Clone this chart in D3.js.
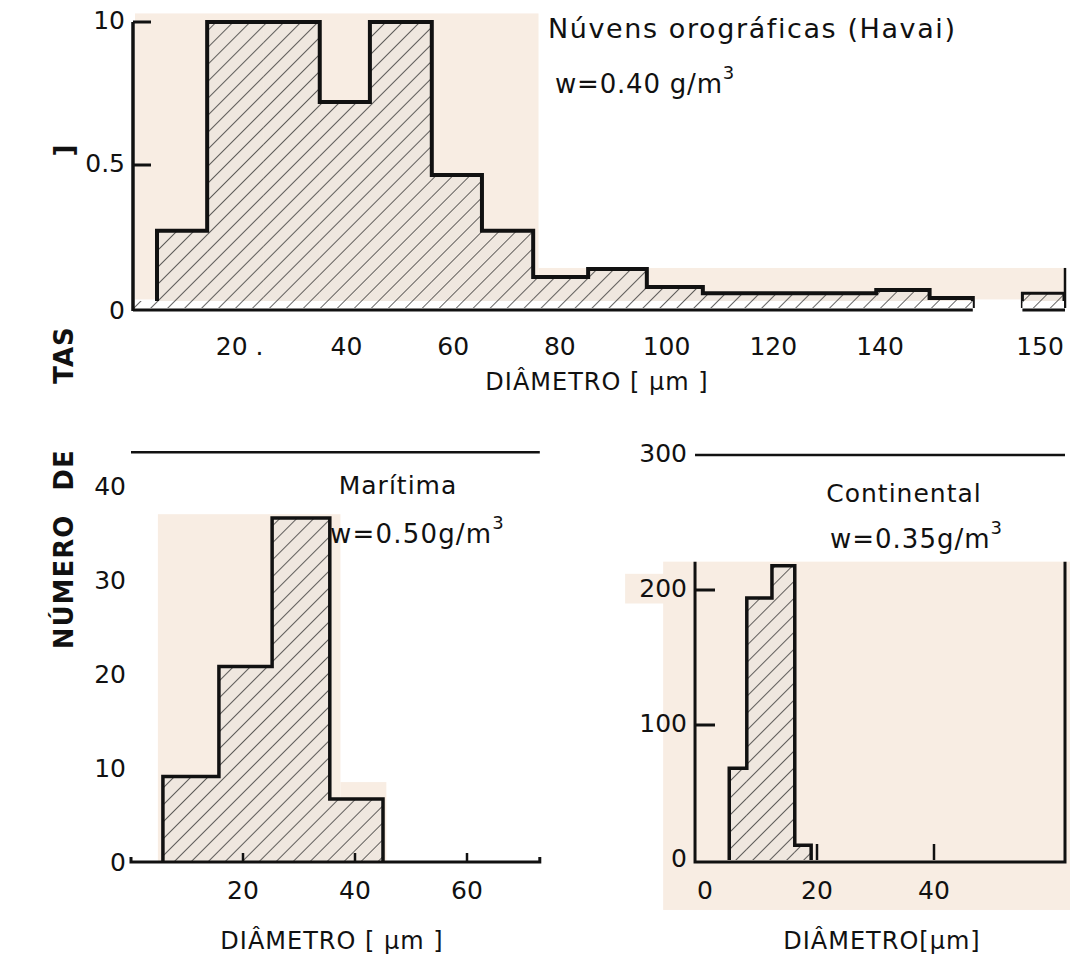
<!DOCTYPE html>
<html><head><meta charset="utf-8">
<script src="https://cdn.jsdelivr.net/npm/d3@7"></script>
<style>
html,body{margin:0;padding:0;background:#fff;}
svg text{font-family:"DejaVu Sans",sans-serif;fill:#111;}
</style></head>
<body>
<svg id="c" width="1070" height="970"></svg>
<script>
// ---------- DATA ----------
// Top: Núvens orográficas (Havai), w = 0.40 g/m3 (normalised number of drops)
const hawaiiEdges  = [4.5, 13.9, 24.5, 35.0, 44.4, 56.0, 65.4, 75.0, 85.3, 96.3, 106.8, 117, 128, 139.3, 143.1, 145.8];
const hawaiiCounts = [0.27, 1.0, 1.0, 0.72, 1.0, 0.465, 0.27, 0.108, 0.136, 0.073, 0.052, 0.052, 0.052, 0.063, 0.035];
const hawaiiExtraEdges  = [148.9, 151.5];
const hawaiiExtraCounts = [0.052];
const hawaiiXTicks  = [20, 40, 60, 80, 100, 120, 140, 150];
const hawaiiXLabels = ["20 .", "40", "60", "80", "100", "120", "140", "150"];
const hawaiiYTicks  = [0, 0.5, 1.0];
const hawaiiYLabels = ["0", "0.5", "10"];

// Bottom left: Marítima, w = 0.50 g/m3
const marEdges  = [5.7, 15.7, 25.2, 35.5, 45];
const marCounts = [9.1, 20.8, 36.6, 6.7];
const marXTicks = [20, 40, 60];
const marYTicks = [0, 10, 20, 30, 40];

// Bottom right: Continental, w = 0.35 g/m3
const conEdges  = [5, 8, 12.3, 16.2, 19];
const conCounts = [68, 194, 218, 11];
const conXTicks = [0, 20, 40];
const conYTicks = [0, 100, 200, 300];
const conYLabels = ["0", "100", "200", "300"];

// ---------- SETUP ----------
const svg = d3.select("#c");
const PEACH = "#f8ede3", BARFILL = "#efe7df", INK = "#111";

const defs = svg.append("defs");
defs.append("pattern").attr("id","hatch").attr("patternUnits","userSpaceOnUse")
  .attr("width",12).attr("height",12).attr("patternTransform","rotate(45)")
  .append("line").attr("x1",0).attr("y1",0).attr("x2",0).attr("y2",12)
  .attr("stroke","#222").attr("stroke-width",1.4);

function stepPath(edges, counts, x, y) {
  const p = d3.path();
  p.moveTo(x(edges[0]), y(0));
  counts.forEach((c,i)=>{ p.lineTo(x(edges[i]), y(c)); p.lineTo(x(edges[i+1]), y(c)); });
  p.lineTo(x(edges[edges.length-1]), y(0));
  return p.toString();
}
function drawHist(g, edges, counts, x, y, sw) {
  const bins = counts.map((c,i)=>({x0:edges[i], x1:edges[i+1], v:c}));
  g.selectAll(null).data(bins).enter().append("rect")
    .attr("x", d=>x(d.x0)).attr("width", d=>x(d.x1)-x(d.x0))
    .attr("y", d=>y(d.v)).attr("height", d=>y(0)-y(d.v))
    .attr("fill", BARFILL);
  g.selectAll(null).data(bins).enter().append("rect")
    .attr("x", d=>x(d.x0)).attr("width", d=>x(d.x1)-x(d.x0))
    .attr("y", d=>y(d.v)).attr("height", d=>y(0)-y(d.v))
    .attr("fill", "url(#hatch)");
  g.append("path").attr("d", stepPath(edges, counts, x, y))
    .attr("fill","none").attr("stroke",INK).attr("stroke-width",sw).attr("stroke-linejoin","miter");
}
function txt(g, x, y, s, size, anchor, ls) {
  return g.append("text").attr("x",x).attr("y",y).attr("font-size",size)
    .attr("text-anchor",anchor||"middle").attr("dominant-baseline","middle")
    .attr("letter-spacing", ls||0).text(s);
}
function wtxt(g, x, y, s, size, ls) {
  g.append("text").attr("x",x).attr("y",y).attr("font-size",size).attr("dominant-baseline","middle")
    .attr("letter-spacing", ls).html(s + '<tspan dy="-11" font-size="18">3</tspan>');
}

// ---------- TOP CHART ----------
const xT = d3.scaleLinear().domain([0,140,150]).range([133,880,1040]);
const yT = d3.scaleLinear().domain([0,1]).range([308,22]);
const gT = svg.append("g");
gT.append("rect").attr("x",xT(0)+2).attr("y",yT(1.03)).attr("width",xT(76)-xT(0)-2).attr("height",yT(0.03)-yT(1.03)).attr("fill",PEACH);
gT.append("rect").attr("x",xT(76)).attr("y",yT(0.14)).attr("width",1065-xT(76)).attr("height",yT(0.03)-yT(0.14)).attr("fill",PEACH);
drawHist(gT, hawaiiEdges, hawaiiCounts, xT, yT, 4);
drawHist(gT, hawaiiExtraEdges, hawaiiExtraCounts, xT, yT, 3);
gT.append("line").attr("x1",1065).attr("x2",1065).attr("y1",yT(0.14)).attr("y2",yT(0)).attr("stroke",INK).attr("stroke-width",2.5);
[[0, hawaiiEdges[hawaiiEdges.length-1]],[hawaiiExtraEdges[0], hawaiiExtraEdges[1]]].forEach(s=>{
  gT.append("rect").attr("x",xT(s[0])).attr("y",yT(0)-7).attr("width",xT(s[1])-xT(s[0])).attr("height",7).attr("fill","#fff");
  gT.append("rect").attr("x",xT(s[0])).attr("y",yT(0)-7).attr("width",xT(s[1])-xT(s[0])).attr("height",7).attr("fill","url(#hatch)");
  gT.append("line").attr("x1",xT(s[0])).attr("x2",xT(s[1])).attr("y1",yT(0)+2).attr("y2",yT(0)+2).attr("stroke",INK).attr("stroke-width",3);
});
gT.append("line").attr("x1",xT(hawaiiExtraEdges[1])).attr("x2",1065).attr("y1",yT(0)+2).attr("y2",yT(0)+2).attr("stroke",INK).attr("stroke-width",3);
gT.append("line").attr("x1",xT(0)).attr("x2",xT(0)).attr("y1",yT(1)).attr("y2",yT(0)+3).attr("stroke",INK).attr("stroke-width",3.5);
hawaiiYTicks.forEach((v,i)=>{
  if (v>0) gT.append("line").attr("x1",xT(0)).attr("x2",xT(0)+18).attr("y1",yT(v)).attr("y2",yT(v)).attr("stroke",INK).attr("stroke-width",3);
  txt(gT, xT(0)-8, yT(v)+(v===0?4:0), hawaiiYLabels[i], 25, "end");
});
hawaiiXTicks.forEach((v,i)=> txt(gT, xT(v), 348, hawaiiXLabels[i], 25));
txt(gT, 597, 383, "DIÂMETRO [ µm ]", 24, "middle", 1);
txt(gT, 548, 30, "Núvens orográficas (Havai)", 27, "start", 1.6);
wtxt(gT, 555, 85, "w=0.40 g/m", 26, 0.8);

// ---------- BOTTOM LEFT ----------
const xL = d3.scaleLinear().domain([20,60]).range([243,467]);
const yL = d3.scaleLinear().domain([0,40]).range([862,486]);
const gL = svg.append("g");
gL.append("rect").attr("x",xL(4.8)).attr("y",yL(37)).attr("width",xL(37.4)-xL(4.8)).attr("height",yL(0)-yL(37)).attr("fill",PEACH);
gL.append("rect").attr("x",xL(37.4)).attr("y",yL(8.5)).attr("width",xL(45.6)-xL(37.4)).attr("height",yL(0)-yL(8.5)).attr("fill",PEACH);
drawHist(gL, marEdges, marCounts, xL, yL, 3.5);
gL.append("line").attr("x1",xL(0)).attr("x2",xL(73)).attr("y1",yL(43.6)).attr("y2",yL(43.6)).attr("stroke",INK).attr("stroke-width",2.5);
gL.append("path").attr("d", d3.line()([[xL(0),yL(0)-5],[xL(0),yL(0)],[xL(73),yL(0)],[xL(73),yL(0)-5]]))
  .attr("fill","none").attr("stroke",INK).attr("stroke-width",3);
marXTicks.forEach(v=>{
  gL.append("line").attr("x1",xL(v)).attr("x2",xL(v)).attr("y1",yL(0)).attr("y2",yL(0)-9).attr("stroke",INK).attr("stroke-width",2.5);
  txt(gL, xL(v), 892, String(v), 25);
});
marYTicks.forEach(v=> txt(gL, 126, yL(v)+2, String(v), 25, "end"));
txt(gL, 332, 942, "DIÂMETRO [ µm ]", 24, "middle", 1);
txt(gL, 398, 487, "Marítima", 25, "middle", 1);
wtxt(gL, 330, 535, "w=0.50g/m", 26, 1.2);

// ---------- BOTTOM RIGHT ----------
const xR = d3.scaleLinear().domain([20,40]).range([817,934]);
const yR = d3.scaleLinear().domain([0,300]).range([860,455]);
const gR = svg.append("g");
gR.append("rect").attr("x",xR(-6.3)).attr("y",yR(221)).attr("width",1070-xR(-6.3)).attr("height",yR(-37)-yR(221)).attr("fill",PEACH);
gR.append("rect").attr("x",xR(-12.8)).attr("y",yR(212)).attr("width",xR(-2)-xR(-12.8)).attr("height",yR(190)-yR(212)).attr("fill",PEACH);
drawHist(gR, conEdges, conCounts, xR, yR, 3.5);
const xLeft = xR(-0.85), xRight = 1065;
gR.append("path").attr("d", d3.line()([[xLeft,yR(221)],[xLeft,yR(0)+2],[xRight,yR(0)+2],[xRight,yR(221)]]))
  .attr("fill","none").attr("stroke",INK).attr("stroke-width",3);
gR.append("line").attr("x1",xLeft).attr("x2",xRight).attr("y1",yR(300)).attr("y2",yR(300)).attr("stroke",INK).attr("stroke-width",2.5);
conYTicks.forEach((v,i)=>{
  if (v>0 && v<300) gR.append("line").attr("x1",xLeft).attr("x2",xLeft+20).attr("y1",yR(v)).attr("y2",yR(v)).attr("stroke",INK).attr("stroke-width",3);
  txt(gR, 687, yR(v), conYLabels[i], 25, "end");
});
conXTicks.forEach(v=>{
  if (v>0) gR.append("line").attr("x1",xR(v)).attr("x2",xR(v)).attr("y1",yR(0)).attr("y2",yR(0)-16).attr("stroke",INK).attr("stroke-width",2.5);
  txt(gR, xR(v)+(v===0?5:0), 892, String(v), 25);
});
txt(gR, 882, 942, "DIÂMETRO[µm]", 24, "middle", 1);
txt(gR, 904, 495, "Continental", 25, "middle", 1);
wtxt(gR, 830, 540, "w=0.35g/m", 26, 1);

// ---------- shared Y label ----------
[["NÚMERO",582],["DE",470],["TAS",355],["]",150]].forEach(d=>{
  svg.append("text").attr("transform",`translate(65,${d[1]}) rotate(-90)`)
    .attr("text-anchor","middle").attr("dominant-baseline","middle")
    .attr("font-size",26).attr("font-weight","bold").attr("letter-spacing",1).text(d[0]);
});
</script>
</body></html>
